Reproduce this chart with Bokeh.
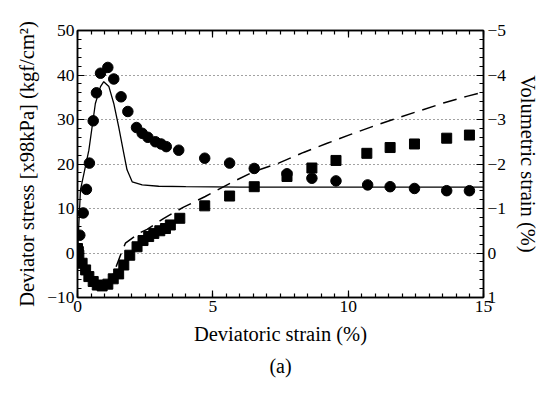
from bokeh.plotting import figure
from bokeh.models import (Range1d, LinearAxis, SingleIntervalTicker, Title,
                          CustomJSTickFormatter)
from bokeh.embed import file_html
from bokeh.resources import INLINE

# Measured deviator stress (x98 kPa) vs deviatoric strain (%)
stress_strain = [0.0, 0.03, 0.085, 0.21, 0.33, 0.44, 0.58, 0.70, 0.85, 1.12,
                 1.34, 1.61, 1.86, 2.18, 2.39, 2.60, 2.88, 3.09, 3.28, 3.74,
                 4.70, 5.62, 6.53, 7.74, 8.66, 9.55, 10.72, 11.55, 12.45,
                 13.64, 14.48]
stress_meas = [0.0, 1.0, 4.0, 9.0, 14.3, 20.2, 29.7, 36.0, 40.4, 41.7,
               39.1, 35.1, 31.8, 28.2, 26.9, 26.0, 25.0, 24.5, 23.9, 23.1,
               21.3, 20.2, 19.0, 17.8, 16.8, 16.2, 15.3, 14.9, 14.5,
               14.0, 14.0]

# Measured volumetric strain (%) vs deviatoric strain (%)
vol_strain = [0.0, 0.05, 0.17, 0.30, 0.42, 0.58, 0.73, 0.91, 1.12, 1.32,
              1.52, 1.71, 1.93, 2.20, 2.42, 2.63, 2.82, 3.04, 3.25, 3.43,
              3.78, 4.70, 5.62, 6.53, 7.74, 8.66, 9.55, 10.69, 11.55, 12.45,
              13.64, 14.48]
vol_meas = [-0.10, 0.05, 0.23, 0.38, 0.53, 0.64, 0.72, 0.74, 0.70, 0.58,
            0.47, 0.27, 0.05, -0.14, -0.28, -0.37, -0.44, -0.50, -0.55, -0.63,
            -0.78, -1.06, -1.28, -1.49, -1.72, -1.91, -2.08, -2.24, -2.37,
            -2.45, -2.58, -2.65]

# Simulated deviator stress
sim_stress_x = [0.0, 0.11, 0.42, 0.66, 0.85, 0.97, 1.16, 1.34, 1.52, 1.71,
                1.83, 2.02, 2.39, 3.0, 4.0, 6.0, 10.0, 15.0]
sim_stress_y = [0.0, 14.2, 23.1, 33.6, 37.4, 38.5, 37.4, 33.6, 28.4, 22.4,
                18.7, 16.0, 15.3, 15.0, 14.9, 14.8, 14.8, 14.8]

# Simulated volumetric strain (%)
sim_vol_x = [0.0, 0.2, 0.5, 0.8, 1.0, 1.2, 1.4, 1.59, 1.77, 2.26, 2.57,
             3.19, 3.92, 4.72, 5.65, 6.51, 7.43, 8.35, 9.2, 10.07, 10.93,
             11.80, 12.66, 13.52, 14.38, 15.0]
sim_vol_y = [0.0, 0.25, 0.55, 0.70, 0.72, 0.60, 0.35, 0.045, -0.22, -0.44,
             -0.53, -0.78, -1.03, -1.27, -1.57, -1.83, -2.02, -2.26, -2.46,
             -2.66, -2.85, -3.03, -3.20, -3.37, -3.52, -3.62]

FONT = "Liberation Serif"

p = figure(width=542, height=396, output_backend="svg", toolbar_location=None,
           x_range=Range1d(0, 15), y_range=Range1d(-10, 50),
           min_border_left=77, min_border_right=58, min_border_top=30,
           min_border_bottom=99)
p.extra_y_ranges = {"vol": Range1d(start=1, end=-5)}

p.outline_line_color = "black"
p.outline_line_width = 1.5
p.background_fill_color = "white"
p.border_fill_color = "white"

# Horizontal dotted grid only
p.xgrid.visible = False
p.ygrid.ticker = SingleIntervalTicker(interval=10)
p.ygrid.grid_line_color = "#444444"
p.ygrid.grid_line_dash = "1 3"
p.ygrid.grid_line_width = 1


def style_axis(ax):
    ax.axis_line_color = "black"
    ax.axis_line_width = 1.5
    ax.major_tick_in = 7
    ax.major_tick_out = 0
    ax.minor_tick_in = 4
    ax.minor_tick_out = 0
    ax.major_tick_line_color = "black"
    ax.minor_tick_line_color = "black"
    ax.major_tick_line_width = 1.2
    ax.minor_tick_line_width = 1.2
    ax.major_label_text_font = FONT
    ax.major_label_text_font_size = "17.5px"
    ax.major_label_text_color = "black"
    ax.axis_label_text_font = FONT
    ax.axis_label_text_font_size = "20.5px"
    ax.axis_label_text_font_style = "normal"
    ax.axis_label_text_color = "black"


xticker = SingleIntervalTicker(interval=5, num_minor_ticks=10)
yticker = SingleIntervalTicker(interval=10, num_minor_ticks=5)

xax = p.xaxis[0]
xax.ticker = xticker
xax.axis_label = "Deviatoric strain (%)"
style_axis(xax)
xax.major_label_standoff = 3
xax.axis_label_standoff = 8

yax = p.yaxis[0]
yax.ticker = yticker
yax.axis_label = "Deviator stress [x98kPa] (kgf/cm\u00b2)"
style_axis(yax)
yax.major_label_standoff = 3
yax.axis_label_standoff = 6

# Mirrored ticks along the top edge, no labels
top_ax = LinearAxis(ticker=SingleIntervalTicker(interval=5, num_minor_ticks=10),
                    formatter=CustomJSTickFormatter(code="return ''"))
style_axis(top_ax)
p.add_layout(top_ax, "above")

right_ax = LinearAxis(y_range_name="vol",
                      ticker=SingleIntervalTicker(interval=1, num_minor_ticks=5),
                      axis_label="Volumetric strain (%)")
style_axis(right_ax)
right_ax.major_label_standoff = 4
right_ax.axis_label_standoff = 8
p.add_layout(right_ax, "right")

# Simulated curves
p.line(sim_stress_x, sim_stress_y, line_color="black", line_width=1.3)
p.line(sim_vol_x, sim_vol_y, y_range_name="vol", line_color="black",
       line_width=1.5, line_dash="14 8")

# Measured points
p.scatter(stress_strain, stress_meas, marker="circle", size=10.5,
          fill_color="black", line_color="black")
p.scatter(vol_strain, vol_meas, y_range_name="vol", marker="square", size=10,
          fill_color="black", line_color="black")

cap = Title(text="(a)", align="center", text_font=FONT,
            text_font_size="20px", text_font_style="normal",
            text_color="black")
p.add_layout(cap, "below")

open("out.html", "w").write(file_html(p, INLINE))
